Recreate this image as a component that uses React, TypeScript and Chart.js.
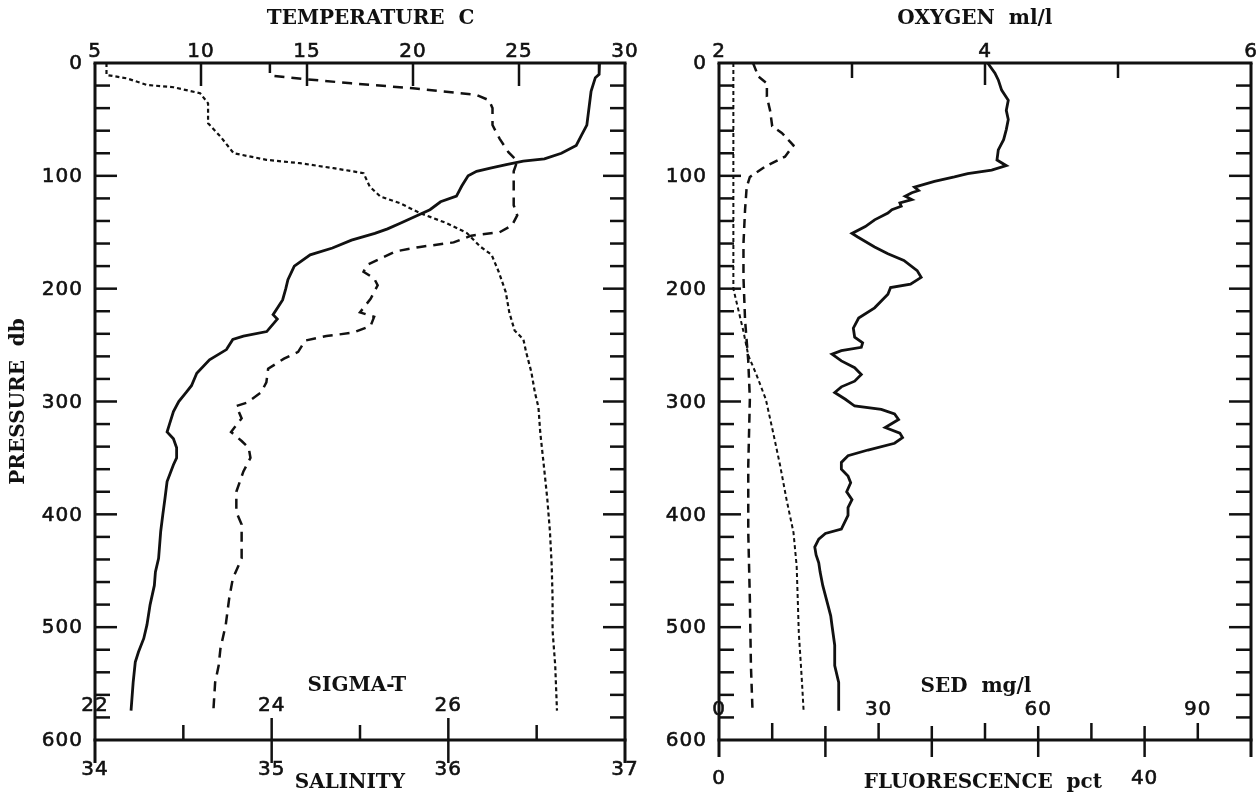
import React, { useEffect, useRef } from "react";
import { Chart, registerables } from "chart.js";

Chart.register(...registerables);

// ---------------- Left panel data (pressure in db) ----------------
const temperaturePressure = [0, 10, 13, 25, 55, 64, 73, 80, 85, 87, 90, 93, 96, 100, 109, 118, 123, 130, 136, 142, 147, 151, 157, 164, 170, 180, 192, 200, 210, 223, 227, 238, 242, 245, 254, 263, 275, 286, 292, 300, 309, 321, 327, 333, 341, 350, 356, 371, 386, 400, 415, 439, 451, 463, 480, 498, 510, 522, 531, 549, 574];
const temperatureValues = [28.8, 28.78, 28.6, 28.4, 28.2, 27.95, 27.7, 27.0, 26.2, 25.2, 24.4, 23.7, 23.0, 22.6, 22.3, 22.05, 21.3, 20.8, 20.1, 19.4, 18.8, 18.2, 17.1, 16.2, 15.15, 14.4, 14.1, 14.0, 13.85, 13.4, 13.6, 13.1, 12.0, 11.5, 11.2, 10.4, 9.8, 9.55, 9.3, 8.95, 8.7, 8.5, 8.4, 8.7, 8.85, 8.85, 8.7, 8.4, 8.3, 8.2, 8.1, 8.0, 7.85, 7.8, 7.6, 7.45, 7.3, 7.05, 6.9, 6.8, 6.7];

const salinityPressure = [0, 11, 14.5, 18, 22.4, 28.3, 33, 40, 55, 67, 79, 87, 96, 108, 126, 135, 144, 150, 153, 159, 163, 167, 173, 179, 185, 191, 197, 209, 221, 225, 233, 239, 242, 246, 256, 262, 271, 283, 292, 301, 304, 315, 327, 335, 341, 350, 362, 380, 398, 409, 439, 457, 474, 498, 519, 534, 549, 574];
const salinityValues = [34.99, 34.99, 35.2, 35.45, 35.8, 36.16, 36.23, 36.25, 36.25, 36.29, 36.34, 36.39, 36.37, 36.37, 36.37, 36.39, 36.36, 36.29, 36.13, 36.03, 35.84, 35.7, 35.62, 35.54, 35.52, 35.58, 35.6, 35.56, 35.5, 35.58, 35.56, 35.46, 35.31, 35.19, 35.15, 35.07, 34.98, 34.97, 34.94, 34.86, 34.8, 34.83, 34.77, 34.83, 34.87, 34.88, 34.84, 34.8, 34.8, 34.83, 34.83, 34.78, 34.76, 34.74, 34.71, 34.7, 34.68, 34.67];

const sigmaTPressure = [0, 10.6, 13.6, 19.5, 21.5, 26.8, 35.7, 53.4, 65.2, 80, 85.8, 88.8, 93.2, 97.6, 109.5, 118.3, 124.2, 133, 141.9, 150.7, 162.6, 170, 185, 203, 221, 237, 245, 256, 274, 292, 305, 327, 356, 386, 415, 445, 474, 503, 534, 574];
const sigmaTValues = [22.13, 22.13, 22.36, 22.59, 22.89, 23.19, 23.28, 23.28, 23.42, 23.57, 23.94, 24.32, 24.7, 25.04, 25.11, 25.23, 25.45, 25.68, 25.98, 26.21, 26.36, 26.49, 26.57, 26.65, 26.69, 26.75, 26.85, 26.88, 26.94, 26.98, 27.02, 27.04, 27.08, 27.12, 27.15, 27.17, 27.18, 27.18, 27.21, 27.23];

// ---------------- Right panel data ----------------
const oxygenPressure = [0, 9, 15, 24, 33, 42, 50, 59, 68, 77, 86, 91, 95, 98, 101, 105, 110, 113, 115, 118, 121, 124, 127, 130, 133, 139, 145, 151, 154, 163, 169, 175, 184, 190, 196, 199, 205, 217, 226, 235, 243, 248, 252, 255, 258, 264, 270, 276, 282, 287, 292, 298, 304, 307, 311, 316, 323, 328, 332, 337, 343, 348, 354, 360, 366, 372, 380, 387, 394, 401, 413, 417, 422, 429, 436, 443, 451, 463, 481, 490, 499, 516, 534, 549, 574];
const oxygenValues = [4.02, 4.075, 4.1, 4.125, 4.175, 4.16, 4.175, 4.16, 4.14, 4.1, 4.09, 4.16, 4.05, 3.87, 3.77, 3.62, 3.47, 3.5, 3.45, 3.4, 3.45, 3.36, 3.37, 3.3, 3.27, 3.17, 3.1, 3.0, 3.04, 3.17, 3.27, 3.39, 3.49, 3.52, 3.44, 3.29, 3.27, 3.17, 3.05, 3.01, 3.02, 3.08, 3.07, 2.92, 2.85, 2.92, 3.02, 3.07, 3.02, 2.92, 2.87, 2.95, 3.02, 3.22, 3.32, 3.35, 3.25, 3.36, 3.38, 3.32, 3.12, 2.97, 2.92, 2.92, 2.97, 2.99, 2.96, 3.0, 2.97, 2.97, 2.92, 2.8, 2.75, 2.72, 2.73, 2.75, 2.76, 2.78, 2.82, 2.84, 2.85, 2.87, 2.87, 2.9, 2.9];

const fluorescencePressure = [0, 12, 18, 30, 42, 56, 62, 73, 83, 92, 101, 110, 130, 160, 190, 228, 264, 298, 357, 416, 475, 534, 574];
const fluorescenceValues = [3.2, 3.7, 4.5, 4.5, 4.8, 5.0, 5.9, 7.0, 6.2, 4.3, 2.9, 2.6, 2.45, 2.3, 2.3, 2.45, 2.75, 2.9, 2.75, 2.75, 2.9, 3.0, 3.15];

const sedPressure = [0, 200, 218, 238, 259, 277, 298, 328, 357, 387, 416, 446, 475, 505, 534, 549, 574];
const sedValues = [2.7, 2.7, 3.6, 4.6, 5.5, 7.1, 8.8, 10.2, 11.5, 12.7, 14.0, 14.6, 14.8, 15.0, 15.4, 15.6, 15.9];

// ---------------- Axis ticks / labels ----------------
const pressureLabels = [0, 100, 200, 300, 400, 500, 600];
const pressureMinorTicks = [20, 40, 60, 80, 120, 140, 160, 180, 220, 240, 260, 280, 320, 340, 360, 380, 420, 440, 460, 480, 520, 540, 560, 580];

const temperatureTicks = [5, 10, 15, 20, 25, 30];
const temperatureMarks = [10, 15, 20, 25];
const salinityTicks = [34, 35, 36, 37];
const salinityMajorMarks = [35, 36];
const salinityMinorMarks = [34.5, 35.5, 36.5];
const sigmaTTicks = [22, 24, 26];

const oxygenTicks = [2, 4, 6];
const oxygenMajorMarks = [4];
const oxygenMinorMarks = [3, 5];
const fluorescenceTicks = [0, 40];
const fluorescenceMajorMarks = [10, 20, 30, 40];
const fluorescenceMinorMarks = [5, 15, 25, 35, 45];
const sedTicks = [0, 30, 60, 90];

const INK = "#111";
const NUM_FONT = '20px "DejaVu Sans"';
const TITLE_FONT = 'bold 20px "DejaVu Serif"';

function profile(label: string, pressures: number[], values: number[], axis: string, width: number, dash: number[]) {
  return {
    label,
    data: pressures.map((p, i) => ({ x: values[i], y: p })),
    xAxisID: axis,
    yAxisID: "y",
    borderColor: INK,
    borderWidth: width,
    borderDash: dash,
    pointRadius: 0,
    tension: 0,
    fill: false,
  };
}

const profileFrame = {
  id: "profileFrame",
  afterDraw(chart: any, _args: any, o: any) {
    const ctx = chart.ctx as CanvasRenderingContext2D;
    const a = chart.chartArea;
    const py = chart.scales.y;
    ctx.save();
    ctx.strokeStyle = INK;
    ctx.fillStyle = INK;
    ctx.lineWidth = 2.5;
    ctx.lineCap = "butt";
    const line = (x1: number, y1: number, x2: number, y2: number) => {
      ctx.beginPath();
      ctx.moveTo(x1, y1);
      ctx.lineTo(x2, y2);
      ctx.stroke();
    };
    const num = (t: string, x: number, y: number, align: CanvasTextAlign, base: CanvasTextBaseline) => {
      ctx.save();
      ctx.font = NUM_FONT;
      (ctx as any).letterSpacing = "1px";
      ctx.textAlign = align;
      ctx.textBaseline = base;
      ctx.lineWidth = 0.6;
      ctx.fillText(t, x, y);
      ctx.strokeText(t, x, y);
      ctx.restore();
    };

    // frame
    ctx.lineWidth = 3;
    line(a.left - 1.5, a.top, a.right + 1.5, a.top);
    line(a.left - 1.5, a.bottom, a.right + 1.5, a.bottom);
    line(a.left, a.top, a.left, a.bottom + o.frameExtend);
    line(a.right, a.top, a.right, a.bottom + o.frameExtend);
    ctx.lineWidth = 2.5;

    // pressure ticks
    o.pressureMinor.forEach((p: number) => {
      const y = py.getPixelForValue(p);
      line(a.left, y, a.left + 15, y);
      line(a.right - 15, y, a.right, y);
    });
    o.pressureMajor.forEach((p: number) => {
      const y = py.getPixelForValue(p);
      if (p > py.min && p < py.max) {
        line(a.left, y, a.left + 22, y);
        line(a.right - 22, y, a.right, y);
      }
      num(String(p), a.left - 12, y + 1, "right", "middle");
    });

    // top axis
    const ts = chart.scales[o.top.scale];
    o.top.marks.forEach((m: any) => {
      m.values.forEach((v: number) => {
        const x = ts.getPixelForValue(v);
        line(x, a.top, x, a.top + m.len);
      });
    });
    o.top.labels.forEach((v: number) => {
      num(String(v), ts.getPixelForValue(v), a.top - 6, "center", "alphabetic");
    });

    // bottom axis
    const bs = chart.scales[o.bottom.scale];
    o.bottom.major.forEach((v: number) => {
      const x = bs.getPixelForValue(v);
      line(x, a.bottom - o.bottom.majorUp, x, a.bottom + o.bottom.majorDown);
    });
    o.bottom.minor.forEach((v: number) => {
      const x = bs.getPixelForValue(v);
      line(x, a.bottom - o.bottom.minorUp, x, a.bottom);
    });
    o.bottom.labels.forEach((v: number) => {
      num(String(v), bs.getPixelForValue(v), o.bottom.labelY, "center", "middle");
    });

    // inner axis labels
    const is = chart.scales[o.inner.scale];
    o.inner.labels.forEach((v: number) => {
      num(String(v), is.getPixelForValue(v), o.inner.labelY, "center", "middle");
    });

    // titles
    ctx.font = TITLE_FONT;
    ctx.textAlign = "center";
    ctx.textBaseline = "middle";
    o.titles.forEach((t: any) => {
      const x = a.left + t.fx * (a.right - a.left);
      if (t.rotate) {
        ctx.save();
        ctx.translate(t.px, (a.top + a.bottom) / 2);
        ctx.rotate(-Math.PI / 2);
        ctx.fillText(t.text, 0, 0);
        ctx.restore();
      } else {
        ctx.fillText(t.text, x, t.y);
      }
    });
    ctx.restore();
  },
};

function baseOptions(padding: any, scales: any, frame: any) {
  return {
    responsive: false,
    animation: false,
    devicePixelRatio: 1,
    indexAxis: "y",
    layout: { padding, autoPadding: false },
    plugins: {
      legend: { display: false },
      tooltip: { enabled: false },
      profileFrame: frame,
    },
    scales: {
      y: { type: "linear", min: 0, max: 600, reverse: true, display: false },
      ...scales,
    },
  };
}

export default function App() {
  const leftRef = useRef<HTMLCanvasElement>(null);
  const rightRef = useRef<HTMLCanvasElement>(null);

  useEffect(() => {
    const left = new Chart(leftRef.current as HTMLCanvasElement, {
      type: "line",
      data: {
        datasets: [
          profile("Temperature", temperaturePressure, temperatureValues, "xTemp", 2.8, []),
          profile("Salinity", salinityPressure, salinityValues, "xSal", 2.5, [10, 7]),
          profile("Sigma-T", sigmaTPressure, sigmaTValues, "xSig", 2.2, [4, 3]),
        ],
      },
      options: baseOptions(
        { left: 95, top: 63, right: 35, bottom: 61 },
        {
          xTemp: { type: "linear", axis: "x", position: "top", min: 5, max: 30, display: false },
          xSal: { type: "linear", axis: "x", position: "bottom", min: 34, max: 37, display: false },
          xSig: { type: "linear", axis: "x", position: "bottom", min: 22, max: 28, display: false },
        },
        {
          frameExtend: 23,
          pressureMajor: pressureLabels,
          pressureMinor: pressureMinorTicks,
          top: { scale: "xTemp", labels: temperatureTicks, marks: [{ values: temperatureMarks, len: 23 }] },
          bottom: {
            scale: "xSal", labels: salinityTicks, major: salinityMajorMarks, majorUp: 22, majorDown: 23,
            minor: salinityMinorMarks, minorUp: 15, labelY: 770,
          },
          inner: { scale: "xSig", labels: sigmaTTicks, labelY: 706 },
          titles: [
            { text: "TEMPERATURE  C", fx: 0.52, y: 19 },
            { text: "SIGMA-T", fx: 0.494, y: 686 },
            { text: "SALINITY", fx: 0.481, y: 783 },
            { text: "PRESSURE  db", rotate: true, px: 19 },
          ],
        }
      ) as any,
      plugins: [profileFrame as any],
    });

    const right = new Chart(rightRef.current as HTMLCanvasElement, {
      type: "line",
      data: {
        datasets: [
          profile("Oxygen", oxygenPressure, oxygenValues, "xOxy", 2.8, []),
          profile("Fluorescence", fluorescencePressure, fluorescenceValues, "xFlu", 2.5, [9, 6]),
          profile("Sediment", sedPressure, sedValues, "xSed", 2.0, [4, 3]),
        ],
      },
      options: baseOptions(
        { left: 59, top: 63, right: 8, bottom: 61 },
        {
          xOxy: { type: "linear", axis: "x", position: "top", min: 2, max: 6, display: false },
          xFlu: { type: "linear", axis: "x", position: "bottom", min: 0, max: 50, display: false },
          xSed: { type: "linear", axis: "x", position: "bottom", min: 0, max: 100, display: false },
        },
        {
          frameExtend: 17,
          pressureMajor: pressureLabels,
          pressureMinor: pressureMinorTicks,
          top: {
            scale: "xOxy", labels: oxygenTicks,
            marks: [{ values: oxygenMinorMarks, len: 15 }, { values: oxygenMajorMarks, len: 22 }],
          },
          bottom: {
            scale: "xFlu", labels: fluorescenceTicks, major: fluorescenceMajorMarks, majorUp: 14, majorDown: 17,
            minor: fluorescenceMinorMarks, minorUp: 17, labelY: 779,
          },
          inner: { scale: "xSed", labels: sedTicks, labelY: 710 },
          titles: [
            { text: "OXYGEN  ml/l", fx: 0.481, y: 19 },
            { text: "SED  mg/l", fx: 0.483, y: 687 },
            { text: "FLUORESCENCE  pct", fx: 0.496, y: 783 },
          ],
        }
      ) as any,
      plugins: [profileFrame as any],
    });

    return () => {
      left.destroy();
      right.destroy();
    };
  }, []);

  return (
    <div style={{ position: "fixed", left: 0, top: 0, width: 1259, height: 801, background: "#fff" }}>
      <canvas ref={leftRef} width={660} height={801} style={{ position: "absolute", left: 0, top: 0, width: 660, height: 801 }} />
      <canvas ref={rightRef} width={599} height={801} style={{ position: "absolute", left: 660, top: 0, width: 599, height: 801 }} />
    </div>
  );
}
